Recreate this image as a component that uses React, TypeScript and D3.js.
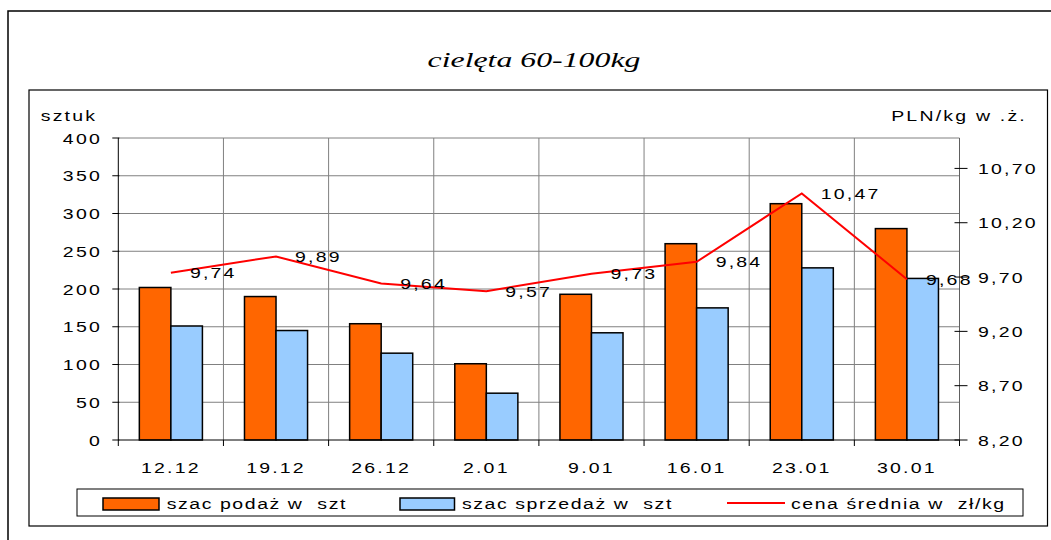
import * as d3 from "d3";
import React, { useEffect, useRef } from "react";

const categories = ["12.12", "19.12", "26.12", "2.01", "9.01", "16.01", "23.01", "30.01"];
const supply = [202, 190, 154, 101, 193, 260, 313, 280];
const sales = [151, 145, 115, 62, 142, 175, 228, 214];
const price = [9.74, 9.89, 9.64, 9.57, 9.73, 9.84, 10.47, 9.68];
const leftTicks = [0, 50, 100, 150, 200, 250, 300, 350, 400];
const rightTicks = [8.2, 8.7, 9.2, 9.7, 10.2, 10.7];
const seriesNames = ["szac podaż w  szt", "szac sprzedaż w  szt", "cena średnia w  zł/kg"];
const title = "cielęta 60-100kg";

const W = 1051;
const H = 540;
const SANS = "Arial, 'Liberation Sans', sans-serif";
const SERIF = "'Liberation Serif', 'Times New Roman', serif";
const ORANGE = "#FF6600";
const BLUE = "#99CCFF";
const GRID = "#808080";

// text in the original is drawn a bit stretched sideways
function addText(g: any, x: number, y: number, s: string, anchor = "start", opts: any = {}) {
    const sx = opts.sx ?? 1.3;
    return g
        .append("text")
        .attr("transform", `translate(${x},${y}) scale(${sx},1)`)
        .attr("text-anchor", anchor)
        .attr("fill", "#000")
        .style("font-family", opts.family ?? SANS)
        .style("font-size", (opts.size ?? 15) + "px")
        .style("font-style", opts.italic ? "italic" : "normal")
        .style("letter-spacing", (opts.ls ?? 1.7) + "px")
        .style("white-space", "pre")
        .text(s);
}

export default function App() {
    const ref = useRef<SVGSVGElement>(null);

    useEffect(() => {
        const svg = d3.select(ref.current);
        svg.selectAll("*").remove();

        const left = 118.3, right = 959.5, top = 138, bottom = 440;

        const x = d3.scaleBand().domain(categories).range([left, right]).padding(0);
        const x1 = d3
            .scaleBand()
            .domain(["supply", "sales"])
            .range([0, x.bandwidth()])
            .paddingInner(0)
            .paddingOuter(0.667);
        const y = d3.scaleLinear().domain([0, 400]).range([bottom, top]);
        const yR = d3.scaleLinear().domain([8.2, 10.98]).range([bottom, top]);

        // frames
        svg.append("rect").attr("width", W).attr("height", H).attr("fill", "#fff");
        svg.append("rect")
            .attr("x", 8).attr("y", 11).attr("width", W + 10).attr("height", H + 10)
            .attr("fill", "none").attr("stroke", "#000").attr("stroke-width", 1.5);
        svg.append("rect")
            .attr("x", 29).attr("y", 90).attr("width", 1047.5 - 29).attr("height", 526 - 90)
            .attr("fill", "none").attr("stroke", "#000").attr("stroke-width", 1.2);

        addText(svg, 534, 66.5, title, "middle", { family: SERIF, size: 21.5, italic: true, sx: 1.48, ls: 0 });

        // gridlines
        svg.append("g")
            .selectAll("line")
            .data(leftTicks.filter((t) => t > 0))
            .enter()
            .append("line")
            .attr("x1", left).attr("x2", right)
            .attr("y1", (d) => y(d)).attr("y2", (d) => y(d))
            .attr("stroke", GRID);
        svg.append("g")
            .selectAll("line")
            .data(categories.slice(1))
            .enter()
            .append("line")
            .attr("x1", (d) => x(d)!).attr("x2", (d) => x(d)!)
            .attr("y1", top).attr("y2", bottom)
            .attr("stroke", GRID);
        // plot right border / right axis
        svg.append("line")
            .attr("x1", right).attr("x2", right).attr("y1", top).attr("y2", bottom)
            .attr("stroke", "#606060");

        // bars
        const gb = svg.append("g");
        categories.forEach((c, i) => {
            gb.append("rect")
                .attr("x", x(c)! + x1("supply")!)
                .attr("y", y(supply[i]))
                .attr("width", x1.bandwidth())
                .attr("height", bottom - y(supply[i]))
                .attr("fill", ORANGE).attr("stroke", "#000").attr("stroke-width", 1.5);
            gb.append("rect")
                .attr("x", x(c)! + x1("sales")!)
                .attr("y", y(sales[i]))
                .attr("width", x1.bandwidth())
                .attr("height", bottom - y(sales[i]))
                .attr("fill", BLUE).attr("stroke", "#000").attr("stroke-width", 1.5);
        });

        // axes
        svg.append("line").attr("x1", left).attr("x2", right).attr("y1", bottom).attr("y2", bottom)
            .attr("stroke", "#000");
        svg.append("line").attr("x1", left).attr("x2", left).attr("y1", top).attr("y2", bottom)
            .attr("stroke", "#000");
        leftTicks.forEach((t) => {
            svg.append("line").attr("x1", left - 6).attr("x2", left + 1).attr("y1", y(t)).attr("y2", y(t))
                .attr("stroke", "#000");
            addText(svg, 102, y(t) + 5.5, String(t), "end");
        });
        d3.range(categories.length + 1).forEach((i) => {
            const xx = left + i * x.bandwidth();
            svg.append("line").attr("x1", xx).attr("x2", xx).attr("y1", bottom).attr("y2", bottom + 6)
                .attr("stroke", "#000");
        });
        categories.forEach((c) => addText(svg, x(c)! + x.bandwidth() / 2, 473, c, "middle"));
        rightTicks.forEach((t) => {
            svg.append("line").attr("x1", right - 5).attr("x2", right + 8).attr("y1", yR(t)).attr("y2", yR(t))
                .attr("stroke", "#000");
            addText(svg, 978, yR(t) + 5.5, t.toFixed(2).replace(".", ","), "start");
        });
        addText(svg, 40.7, 120.5, "sztuk", "start");
        addText(svg, 1027, 121, "PLN/kg w .ż.", "end");

        // price line
        const pts = categories.map((c, i) => [x(c)! + x.bandwidth() / 2, yR(price[i])] as [number, number]);
        svg.append("path")
            .attr("d", d3.line()(pts))
            .attr("fill", "none").attr("stroke", "#FF0000").attr("stroke-width", 2);
        pts.forEach((p, i) => {
            addText(svg, p[0] + 19, p[1] + 5.5, price[i].toFixed(2).replace(".", ","), "start");
        });

        // legend
        const lg = svg.append("g");
        lg.append("rect").attr("x", 77).attr("y", 489).attr("width", 1023 - 77).attr("height", 27)
            .attr("fill", "#fff").attr("stroke", "#000");
        lg.append("rect").attr("x", 103).attr("y", 498).attr("width", 56).attr("height", 12)
            .attr("fill", ORANGE).attr("stroke", "#000").attr("stroke-width", 1.5);
        addText(lg, 166.7, 508.5, seriesNames[0], "start", { ls: 1.2 });
        lg.append("rect").attr("x", 400).attr("y", 498).attr("width", 54.5).attr("height", 12)
            .attr("fill", BLUE).attr("stroke", "#000").attr("stroke-width", 1.5);
        addText(lg, 462, 508.5, seriesNames[1], "start", { ls: 1.2 });
        lg.append("line").attr("x1", 727).attr("x2", 785).attr("y1", 503).attr("y2", 503)
            .attr("stroke", "#FF0000").attr("stroke-width", 2);
        addText(lg, 791, 508.5, seriesNames[2], "start", { ls: 1.2 });
    }, []);

    return (
        <div style={{ position: "absolute", left: 0, top: 0 }}>
            <svg ref={ref} width={W} height={H} style={{ display: "block" }} />
        </div>
    );
}
